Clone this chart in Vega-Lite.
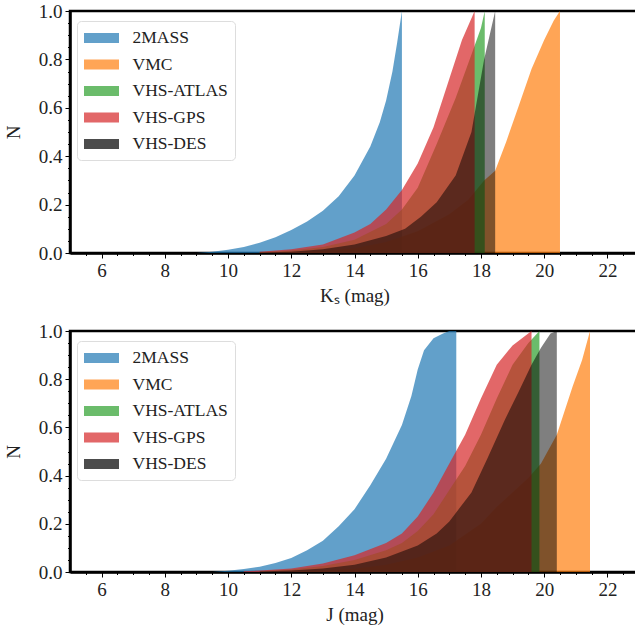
{
  "$schema": "https://vega.github.io/schema/vega-lite/v6.json",
  "padding": {"left": 3, "top": 0, "right": 0, "bottom": 0},
  "background": "white",
  "datasets": {
    "ks": [
      {"survey": "2MASS", "mag": 9.0, "N": 0.0},
      {"survey": "2MASS", "mag": 9.5, "N": 0.005},
      {"survey": "2MASS", "mag": 10.0, "N": 0.013},
      {"survey": "2MASS", "mag": 10.5, "N": 0.025},
      {"survey": "2MASS", "mag": 11.0, "N": 0.042},
      {"survey": "2MASS", "mag": 11.5, "N": 0.065},
      {"survey": "2MASS", "mag": 12.0, "N": 0.095},
      {"survey": "2MASS", "mag": 12.5, "N": 0.13},
      {"survey": "2MASS", "mag": 13.0, "N": 0.175},
      {"survey": "2MASS", "mag": 13.5, "N": 0.235},
      {"survey": "2MASS", "mag": 14.0, "N": 0.32},
      {"survey": "2MASS", "mag": 14.5, "N": 0.44},
      {"survey": "2MASS", "mag": 14.8, "N": 0.54},
      {"survey": "2MASS", "mag": 15.0, "N": 0.63},
      {"survey": "2MASS", "mag": 15.2, "N": 0.75},
      {"survey": "2MASS", "mag": 15.35, "N": 0.87},
      {"survey": "2MASS", "mag": 15.5, "N": 1.0},
      {"survey": "VMC", "mag": 11.0, "N": 0.001},
      {"survey": "VMC", "mag": 12.0, "N": 0.003},
      {"survey": "VMC", "mag": 13.0, "N": 0.008},
      {"survey": "VMC", "mag": 14.0, "N": 0.02},
      {"survey": "VMC", "mag": 15.0, "N": 0.045},
      {"survey": "VMC", "mag": 16.0, "N": 0.09},
      {"survey": "VMC", "mag": 17.0, "N": 0.16},
      {"survey": "VMC", "mag": 17.6, "N": 0.22},
      {"survey": "VMC", "mag": 18.1, "N": 0.3},
      {"survey": "VMC", "mag": 18.45, "N": 0.34},
      {"survey": "VMC", "mag": 18.8, "N": 0.46},
      {"survey": "VMC", "mag": 19.2, "N": 0.61},
      {"survey": "VMC", "mag": 19.6, "N": 0.76},
      {"survey": "VMC", "mag": 20.0, "N": 0.88},
      {"survey": "VMC", "mag": 20.3, "N": 0.96},
      {"survey": "VMC", "mag": 20.5, "N": 1.0},
      {"survey": "VHS-ATLAS", "mag": 11.0, "N": 0.003},
      {"survey": "VHS-ATLAS", "mag": 12.0, "N": 0.01},
      {"survey": "VHS-ATLAS", "mag": 13.0, "N": 0.025},
      {"survey": "VHS-ATLAS", "mag": 14.0, "N": 0.055},
      {"survey": "VHS-ATLAS", "mag": 15.0, "N": 0.12},
      {"survey": "VHS-ATLAS", "mag": 15.5, "N": 0.18},
      {"survey": "VHS-ATLAS", "mag": 16.0, "N": 0.27},
      {"survey": "VHS-ATLAS", "mag": 16.6, "N": 0.45},
      {"survey": "VHS-ATLAS", "mag": 17.2, "N": 0.64},
      {"survey": "VHS-ATLAS", "mag": 17.7, "N": 0.82},
      {"survey": "VHS-ATLAS", "mag": 18.0, "N": 0.93},
      {"survey": "VHS-ATLAS", "mag": 18.12, "N": 1.0},
      {"survey": "VHS-GPS", "mag": 11.0, "N": 0.005},
      {"survey": "VHS-GPS", "mag": 12.0, "N": 0.015},
      {"survey": "VHS-GPS", "mag": 13.0, "N": 0.035},
      {"survey": "VHS-GPS", "mag": 14.0, "N": 0.085},
      {"survey": "VHS-GPS", "mag": 14.5, "N": 0.12},
      {"survey": "VHS-GPS", "mag": 15.0, "N": 0.18},
      {"survey": "VHS-GPS", "mag": 15.5, "N": 0.26},
      {"survey": "VHS-GPS", "mag": 16.0, "N": 0.37},
      {"survey": "VHS-GPS", "mag": 16.5, "N": 0.52},
      {"survey": "VHS-GPS", "mag": 17.0, "N": 0.72},
      {"survey": "VHS-GPS", "mag": 17.4, "N": 0.88},
      {"survey": "VHS-GPS", "mag": 17.8, "N": 1.0},
      {"survey": "VHS-DES", "mag": 11.0, "N": 0.002},
      {"survey": "VHS-DES", "mag": 12.0, "N": 0.005},
      {"survey": "VHS-DES", "mag": 13.0, "N": 0.015},
      {"survey": "VHS-DES", "mag": 14.0, "N": 0.035},
      {"survey": "VHS-DES", "mag": 15.0, "N": 0.07},
      {"survey": "VHS-DES", "mag": 15.6, "N": 0.1},
      {"survey": "VHS-DES", "mag": 16.1, "N": 0.15},
      {"survey": "VHS-DES", "mag": 16.6, "N": 0.21},
      {"survey": "VHS-DES", "mag": 17.2, "N": 0.32},
      {"survey": "VHS-DES", "mag": 17.7, "N": 0.5},
      {"survey": "VHS-DES", "mag": 18.1, "N": 0.8},
      {"survey": "VHS-DES", "mag": 18.45, "N": 1.0}
    ],
    "j": [
      {"survey": "2MASS", "mag": 9.5, "N": 0.0},
      {"survey": "2MASS", "mag": 10.0, "N": 0.005},
      {"survey": "2MASS", "mag": 10.5, "N": 0.012},
      {"survey": "2MASS", "mag": 11.0, "N": 0.022},
      {"survey": "2MASS", "mag": 11.5, "N": 0.037},
      {"survey": "2MASS", "mag": 12.0, "N": 0.058},
      {"survey": "2MASS", "mag": 12.5, "N": 0.09},
      {"survey": "2MASS", "mag": 13.0, "N": 0.13},
      {"survey": "2MASS", "mag": 13.5, "N": 0.19},
      {"survey": "2MASS", "mag": 14.0, "N": 0.26},
      {"survey": "2MASS", "mag": 14.5, "N": 0.36},
      {"survey": "2MASS", "mag": 15.0, "N": 0.47},
      {"survey": "2MASS", "mag": 15.5, "N": 0.61},
      {"survey": "2MASS", "mag": 15.8, "N": 0.73},
      {"survey": "2MASS", "mag": 16.0, "N": 0.84},
      {"survey": "2MASS", "mag": 16.2, "N": 0.92},
      {"survey": "2MASS", "mag": 16.5, "N": 0.97},
      {"survey": "2MASS", "mag": 16.8, "N": 0.99},
      {"survey": "2MASS", "mag": 17.0, "N": 1.0},
      {"survey": "2MASS", "mag": 17.22, "N": 1.0},
      {"survey": "VMC", "mag": 12.0, "N": 0.002},
      {"survey": "VMC", "mag": 13.0, "N": 0.006},
      {"survey": "VMC", "mag": 14.0, "N": 0.014},
      {"survey": "VMC", "mag": 15.0, "N": 0.03},
      {"survey": "VMC", "mag": 16.0, "N": 0.06},
      {"survey": "VMC", "mag": 17.0, "N": 0.11},
      {"survey": "VMC", "mag": 18.0, "N": 0.2},
      {"survey": "VMC", "mag": 18.5, "N": 0.27},
      {"survey": "VMC", "mag": 19.0, "N": 0.33},
      {"survey": "VMC", "mag": 19.5, "N": 0.39},
      {"survey": "VMC", "mag": 19.9, "N": 0.45},
      {"survey": "VMC", "mag": 20.4, "N": 0.57},
      {"survey": "VMC", "mag": 20.9, "N": 0.77},
      {"survey": "VMC", "mag": 21.2, "N": 0.88},
      {"survey": "VMC", "mag": 21.45, "N": 1.0},
      {"survey": "VHS-ATLAS", "mag": 11.0, "N": 0.003},
      {"survey": "VHS-ATLAS", "mag": 12.0, "N": 0.01},
      {"survey": "VHS-ATLAS", "mag": 13.0, "N": 0.025},
      {"survey": "VHS-ATLAS", "mag": 14.0, "N": 0.05},
      {"survey": "VHS-ATLAS", "mag": 15.0, "N": 0.09},
      {"survey": "VHS-ATLAS", "mag": 15.5, "N": 0.12},
      {"survey": "VHS-ATLAS", "mag": 16.0, "N": 0.17},
      {"survey": "VHS-ATLAS", "mag": 16.5, "N": 0.24},
      {"survey": "VHS-ATLAS", "mag": 17.0, "N": 0.34},
      {"survey": "VHS-ATLAS", "mag": 17.5, "N": 0.44},
      {"survey": "VHS-ATLAS", "mag": 18.0, "N": 0.57},
      {"survey": "VHS-ATLAS", "mag": 18.5, "N": 0.72},
      {"survey": "VHS-ATLAS", "mag": 19.0, "N": 0.86},
      {"survey": "VHS-ATLAS", "mag": 19.5, "N": 0.95},
      {"survey": "VHS-ATLAS", "mag": 19.85, "N": 1.0},
      {"survey": "VHS-GPS", "mag": 10.5, "N": 0.003},
      {"survey": "VHS-GPS", "mag": 11.0, "N": 0.006},
      {"survey": "VHS-GPS", "mag": 12.0, "N": 0.015},
      {"survey": "VHS-GPS", "mag": 13.0, "N": 0.035},
      {"survey": "VHS-GPS", "mag": 14.0, "N": 0.07},
      {"survey": "VHS-GPS", "mag": 15.0, "N": 0.12},
      {"survey": "VHS-GPS", "mag": 15.5, "N": 0.16},
      {"survey": "VHS-GPS", "mag": 16.0, "N": 0.23},
      {"survey": "VHS-GPS", "mag": 16.5, "N": 0.33},
      {"survey": "VHS-GPS", "mag": 17.0, "N": 0.45},
      {"survey": "VHS-GPS", "mag": 17.5, "N": 0.57},
      {"survey": "VHS-GPS", "mag": 18.0, "N": 0.72},
      {"survey": "VHS-GPS", "mag": 18.5, "N": 0.86},
      {"survey": "VHS-GPS", "mag": 19.0, "N": 0.94},
      {"survey": "VHS-GPS", "mag": 19.3, "N": 0.97},
      {"survey": "VHS-GPS", "mag": 19.6, "N": 1.0},
      {"survey": "VHS-DES", "mag": 11.0, "N": 0.002},
      {"survey": "VHS-DES", "mag": 12.0, "N": 0.006},
      {"survey": "VHS-DES", "mag": 13.0, "N": 0.015},
      {"survey": "VHS-DES", "mag": 14.0, "N": 0.03},
      {"survey": "VHS-DES", "mag": 15.0, "N": 0.06},
      {"survey": "VHS-DES", "mag": 16.0, "N": 0.11},
      {"survey": "VHS-DES", "mag": 16.6, "N": 0.16},
      {"survey": "VHS-DES", "mag": 17.0, "N": 0.21},
      {"survey": "VHS-DES", "mag": 17.7, "N": 0.33},
      {"survey": "VHS-DES", "mag": 18.2, "N": 0.47},
      {"survey": "VHS-DES", "mag": 18.75, "N": 0.63},
      {"survey": "VHS-DES", "mag": 19.2, "N": 0.75},
      {"survey": "VHS-DES", "mag": 19.6, "N": 0.86},
      {"survey": "VHS-DES", "mag": 19.9, "N": 0.93},
      {"survey": "VHS-DES", "mag": 20.2, "N": 0.99},
      {"survey": "VHS-DES", "mag": 20.4, "N": 1.0}
    ]
  },
  "vconcat": [
    {
      "data": {"name": "ks"},
      "width": 569,
      "height": 242,
      "resolve": {"axis": {"x": "independent", "y": "independent"}},
      "layer": [
        {
          "mark": {"type": "area", "interpolate": "linear"},
          "encoding": {
            "x": {"field": "mag", "type": "quantitative", "scale": {"domain": [5, 23], "nice": false, "zero": false},
              "axis": {"orient": "bottom", "values": [6, 8, 10, 12, 14, 16, 18, 20, 22], "title": "Kₛ (mag)",
                "labelFont": "Liberation Serif", "titleFont": "Liberation Serif"}},
            "y": {"field": "N", "type": "quantitative", "stack": null, "scale": {"domain": [0, 1], "nice": false},
              "axis": {"orient": "left", "values": [0, 0.2, 0.4, 0.6, 0.8, 1.0], "format": ".1f", "title": "N", "titlePadding": 15,
                "labelFont": "Liberation Serif", "titleFont": "Liberation Serif"}},
            "color": {"field": "survey", "type": "nominal",
              "scale": {"domain": ["2MASS", "VMC", "VHS-ATLAS", "VHS-GPS", "VHS-DES"], "range": ["#1f77b4", "#ff7f0e", "#2ca02c", "#d62728", "#000000"]},
              "legend": {"orient": "none", "legendX": 7, "legendY": 10, "title": null,
                "encode": {"symbols": {"update": {"opacity": {"signal": "datum.value === 'VHS-DES' ? 0.5 : 0.7"}}}}}},
            "opacity": {"condition": {"test": "datum.survey === 'VHS-DES'", "value": 0.5}, "value": 0.7}
          }
        },
        {
          "mark": {"type": "point", "opacity": 0},
          "encoding": {
            "x": {"field": "mag", "type": "quantitative",
              "axis": {"orient": "bottom", "values": [5.5, 6.5, 7, 7.5, 8.5, 9, 9.5, 10.5, 11, 11.5, 12.5, 13, 13.5, 14.5, 15, 15.5, 16.5, 17, 17.5, 18.5, 19, 19.5, 20.5, 21, 21.5, 22.5], "labels": false, "domain": false, "title": null, "tickSize": 2.5}},
            "y": {"field": "N", "type": "quantitative",
              "axis": {"orient": "left", "values": [0.05, 0.1, 0.15, 0.25, 0.3, 0.35, 0.45, 0.5, 0.55, 0.65, 0.7, 0.75, 0.85, 0.9, 0.95], "labels": false, "domain": false, "title": null, "tickSize": 2.5}}
          }
        }
      ]
    },
    {
      "data": {"name": "j"},
      "width": 569,
      "height": 241,
      "resolve": {"axis": {"x": "independent", "y": "independent"}},
      "layer": [
        {
          "mark": {"type": "area", "interpolate": "linear"},
          "encoding": {
            "x": {"field": "mag", "type": "quantitative", "scale": {"domain": [5, 23], "nice": false, "zero": false},
              "axis": {"orient": "bottom", "values": [6, 8, 10, 12, 14, 16, 18, 20, 22], "title": "J (mag)",
                "labelFont": "Liberation Serif", "titleFont": "Liberation Serif"}},
            "y": {"field": "N", "type": "quantitative", "stack": null, "scale": {"domain": [0, 1], "nice": false},
              "axis": {"orient": "left", "values": [0, 0.2, 0.4, 0.6, 0.8, 1.0], "format": ".1f", "title": "N", "titlePadding": 15,
                "labelFont": "Liberation Serif", "titleFont": "Liberation Serif"}},
            "color": {"field": "survey", "type": "nominal",
              "scale": {"domain": ["2MASS", "VMC", "VHS-ATLAS", "VHS-GPS", "VHS-DES"], "range": ["#1f77b4", "#ff7f0e", "#2ca02c", "#d62728", "#000000"]},
              "legend": {"orient": "none", "legendX": 7, "legendY": 10, "title": null,
                "encode": {"symbols": {"update": {"opacity": {"signal": "datum.value === 'VHS-DES' ? 0.5 : 0.7"}}}}}},
            "opacity": {"condition": {"test": "datum.survey === 'VHS-DES'", "value": 0.5}, "value": 0.7}
          }
        },
        {
          "mark": {"type": "point", "opacity": 0},
          "encoding": {
            "x": {"field": "mag", "type": "quantitative",
              "axis": {"orient": "bottom", "values": [5.5, 6.5, 7, 7.5, 8.5, 9, 9.5, 10.5, 11, 11.5, 12.5, 13, 13.5, 14.5, 15, 15.5, 16.5, 17, 17.5, 18.5, 19, 19.5, 20.5, 21, 21.5, 22.5], "labels": false, "domain": false, "title": null, "tickSize": 2.5}},
            "y": {"field": "N", "type": "quantitative",
              "axis": {"orient": "left", "values": [0.05, 0.1, 0.15, 0.25, 0.3, 0.35, 0.45, 0.5, 0.55, 0.65, 0.7, 0.75, 0.85, 0.9, 0.95], "labels": false, "domain": false, "title": null, "tickSize": 2.5}}
          }
        }
      ]
    }
  ],
  "spacing": 13,
  "resolve": {"scale": {"color": "independent"}},
  "config": {
    "view": {"stroke": "#000000", "strokeWidth": 2.5},
    "axis": {
      "domainColor": "#000000", "domainWidth": 2.5, "tickColor": "#000000", "tickWidth": 1, "tickSize": 5,
      "labelFont": "Liberation Serif", "labelFontSize": 19, "labelColor": "#222222", "labelPadding": 3,
      "titleFont": "Liberation Serif", "titleFontSize": 19, "titleFontWeight": "normal", "titleColor": "#222222",
      "titlePadding": 6, "grid": false
    },
    "legend": {
      "labelFont": "Liberation Serif", "labelFontSize": 17.5, "labelColor": "#222222",
      "symbolType": "M-1.75,-0.5H1.75V0.5H-1.75Z", "symbolSize": 400, "symbolStrokeWidth": 0,
      "symbolOffset": 7.5, "labelOffset": 21, "rowPadding": 7.5, "padding": 7,
      "fillColor": "rgba(255,255,255,0.8)", "strokeColor": "#dddddd", "cornerRadius": 4
    }
  }
}
